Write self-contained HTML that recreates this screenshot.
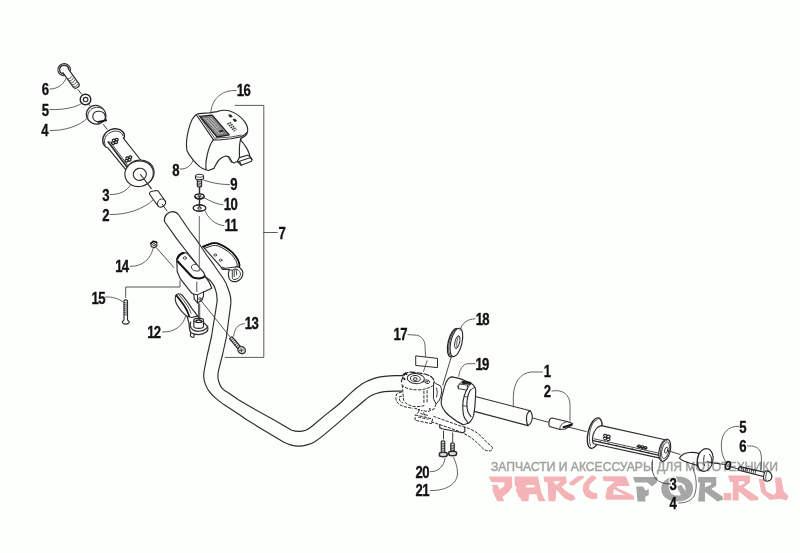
<!DOCTYPE html>
<html>
<head>
<meta charset="utf-8">
<title>Handlebar assembly</title>
<style>
html,body{margin:0;padding:0;background:#fdfffd;}
body{width:800px;height:553px;overflow:hidden;font-family:"Liberation Sans",sans-serif;}
svg{display:block;position:absolute;left:0;top:0;}
.o{fill:none;stroke:#2b2b2b;stroke-width:1.15;stroke-linecap:round;stroke-linejoin:round;}
.w{fill:#fdfffd;stroke:#2b2b2b;stroke-width:1.15;stroke-linecap:round;stroke-linejoin:round;}
.t{fill:none;stroke:#333;stroke-width:0.85;stroke-linecap:round;stroke-linejoin:round;}
.k{fill:none;stroke:#111;stroke-width:2;stroke-linecap:round;stroke-linejoin:round;}
.l{fill:none;stroke:#484848;stroke-width:0.85;stroke-linecap:round;stroke-linejoin:round;}
.d{fill:none;stroke:#333;stroke-width:0.95;stroke-linecap:butt;}
.dd{fill:none;stroke:#2e2e2e;stroke-width:1;stroke-dasharray:3.2 1.2;stroke-linecap:butt;stroke-linejoin:round;}
.n{font-family:"Liberation Sans",sans-serif;font-weight:bold;font-size:17.3px;fill:#111;stroke:#111;stroke-width:0.35;letter-spacing:-0.9px;}
.wm{font-family:"Liberation Sans",sans-serif;font-size:12.4px;fill:#a2a2a2;stroke:#a2a2a2;stroke-width:0.45;}
</style>
</head>
<body>
<svg width="800" height="553" viewBox="0 0 800 553">
<rect x="0" y="0" width="800" height="553" fill="#fdfffd"/>

<!-- ================= LEFT GRIP GROUP ================= -->
<g id="leftgrip">
<!-- bolt 6 -->
<ellipse class="w" cx="64.100" cy="69.600" rx="6.300" ry="5.900" transform="rotate(-20 64.100 69.600)"/>
<path class="o" style="stroke-width:1.300" d="M63.600 73.900 C61.300 73.600 59.700 71.900 59.600 69.700 C59.500 67.100 61.500 65.300 64 65.300 C66.500 65.300 68.300 66.800 68.500 68.900"/>
<path class="w" d="M62.900 72.600 L73.300 87.200 C74.300 88.300 76 88.600 77.500 87.600 C79 86.600 79.600 85 79 83.800 L68.600 69.300" />
<path class="t" style="stroke-width:0.800" d="M67.200 78.800 C69 79.300 71 78 72 76.200 M68.700 80.800 C70.500 81.300 72.500 80 73.500 78.200 M70.200 82.800 C72 83.300 74 82 75 80.200 M71.700 84.800 C73.500 85.300 75.500 84 76.500 82.200 M73.200 86.800 C75 87.300 77 86 78 84.200"/>
<path class="d" d="M77.800 89.400 L81.600 94.200"/>
<!-- washer 5 -->
<ellipse cx="85.500" cy="99.500" rx="5.300" ry="5.300" fill="#fdfffd" stroke="#222" stroke-width="1.400"/>
<ellipse cx="85.600" cy="99.600" rx="2.300" ry="2.200" fill="#fdfffd" stroke="#222" stroke-width="1.100"/>
<path class="d" d="M88 103.300 L90.400 106.400"/>
<!-- cap 4 -->
<ellipse class="w" style="stroke-width:1.250" cx="96.100" cy="114.800" rx="9.900" ry="9.200" transform="rotate(25 96.100 114.800)"/>
<path class="o" style="stroke-width:0.950" d="M87.800 118.800 C87 113.500 89.500 109.500 93.500 108 C97.500 106.600 102 107.500 104.500 110.300"/>
<path class="o" d="M98.600 122 C94.500 121.500 92.500 118.800 92.800 116 C93.200 112.800 96 111.200 99 111.300 C102 111.500 104.300 113 105 115.300 L106.200 120.300"/>
<path class="k" style="stroke-width:1.900" d="M98.400 121.900 L105.900 120.400"/>
<path class="d" d="M103.200 124.200 L107.300 129.500"/>
<!-- grip 3 -->
<path class="w" style="stroke:none" d="M103.4 143.7 C102.6 141.5 102.6 139.5 103.1 137.6 C104 135 105.3 133 107.2 131.5 C109.3 130 111.5 129.1 114 128.8 C116.5 128.6 119 129 120.8 130.2 C122.5 131.3 123.8 132.6 124.2 134.2 C124.5 135.3 124.5 136.5 124.2 137.6 L123.5 138.3 L141.5 161 L126.5 170.5 L107.9 147.8 C105.5 147.3 104 145.8 103.4 143.7 Z"/>
<path class="o" style="stroke-width:1.5" d="M103.4 143.7 C102.6 141.5 102.6 139.5 103.1 137.6 C104 135 105.3 133 107.2 131.5 C109.3 130 111.5 129.1 114 128.8 C116.5 128.6 119 129 120.8 130.2 C122.5 131.3 123.8 132.6 124.2 134.2 C124.5 135.3 124.5 136.5 124.2 137.6 L123.5 138.3"/>
<path class="o" style="stroke-width:0.9" d="M105.2 145.1 C104.4 143 104.3 141 104.8 139 C105.5 136.8 106.8 135 108.6 133.6 C110.3 132.3 112.5 131.4 114.7 131.1 C116.7 130.9 118.7 131.3 120.1 132.2 C121.5 133 122.5 134.2 122.8 135.6"/>
<path class="o" d="M103.4 143.7 C104 145.8 105.5 147.3 107.9 147.8 L125.7 169.7"/>
<path class="o" d="M123.5 138.3 L141 160.5"/>
<path class="o" style="stroke-width:1.700" d="M108.300 142 L127.200 167.300"/>
<path class="t" style="stroke-width:0.800" d="M110 141.500 L128.600 166.300"/>
<g class="t" style="stroke-width:1.250;stroke:#222">
<path d="M112.3 140.4 c.3 -1.4 2.3 -1.6 2.8 -.3 c.4 1.2 -.8 2 -1.8 1.6 c1.3 .3 1.7 1.8 .7 2.5 c-1 .7 -2.6 -.2 -2.4 -1.5 c.1 -.7 .6 -1 1.200 -1 M115.300 139.500 c.3 -1.4 2.3 -1.6 2.8 -.3 c.4 1.2 -.8 2 -1.8 1.600 c1.3 .3 1.7 1.8 .7 2.5 c-1 .7 -2.6 -.2 -2.4 -1.500 c.1 -.7 .6 -1 1.200 -1"/>
<path d="M125.800 158 c.3 -1.4 2.3 -1.6 2.8 -.3 c.4 1.2 -.8 2 -1.8 1.600 c1.3 .3 1.7 1.8 .7 2.5 c-1 .7 -2.6 -.2 -2.4 -1.500 c.1 -.7 .6 -1 1.200 -1 M128.800 157.100 c.3 -1.4 2.3 -1.6 2.8 -.3 c.4 1.2 -.8 2 -1.8 1.600 c1.3 .3 1.7 1.800 .7 2.500 c-1 .7 -2.600 -.2 -2.400 -1.500 c.1 -.7 .6 -1 1.200 -1"/>
</g>
<ellipse class="w" cx="139.900" cy="172.900" rx="14.300" ry="12.800" transform="rotate(-12 139.900 172.900)"/>
<ellipse class="w" cx="139.100" cy="173.700" rx="14.300" ry="12.800" transform="rotate(-12 139.100 173.700)"/>
<ellipse class="w" cx="139.800" cy="174.300" rx="6.600" ry="6" transform="rotate(-12 139.800 174.300)"/>
<path class="o" d="M140.500 174.500 L151.300 188.600"/>
<!-- sleeve 2 -->
<path class="w" d="M149.500 193.500 C149.600 192.500 150.200 191.800 151 191.500 L156.500 190.500 C157.300 190.500 158 190.900 158.500 191.500 L165.500 201.500 C165.800 202.600 165.600 203.600 165 204.500 C164.300 205.700 163.300 206.500 162 207 C160.800 207.300 159.600 207.100 158.500 206.500 L158 206 L149.700 194.500 Z"/>
<path class="o" style="stroke-width:1" d="M157.800 205.300 C157.300 203.800 157.600 202.100 158.500 200.700 C159.300 199.700 160.300 199.100 161.500 199 C162.900 198.900 164.100 199.400 165 200.500"/>
<path class="d" d="M162 204 L167.300 211.300"/>
</g>

<!-- ================= COVER 8 ================= -->
<g id="cover">
<path class="w" d="M196 114.700 C197 113.900 198 113.700 199 113.600 L209.100 112.900 L217 111.600 C219.500 110.700 221.500 110.400 223.100 110.300 C225.500 110.100 227.500 110.300 229.200 110.700 C232.500 111.700 235.500 113.200 238 115.100 C241 117.300 243.300 119.600 245 122.100 C246.300 124 247.200 126 247.600 128.200 C248 130.500 247.700 132.600 246.700 134.400 C245.300 136.300 243.500 137.700 240.700 138.600 L241.200 140.800 C243 142.500 244.500 144.500 245.700 146.700 C247.300 149 248.500 151.500 249.300 154 L249.800 156.200 L252 159.400 L251.600 161.200 L241.200 165.300 L238 162.100 L237.600 161.200 L234 163 L232.100 162.100 L229 156.700 C227.700 156.200 226.300 156 224.900 156.200 C223.300 156.700 221.800 157.500 220.400 158.500 C218.700 160 217.300 161.800 216.300 163.900 C215.300 165.500 214.500 167 214 168.400 L208.500 170.500 L205.900 169.800 C203.800 169.200 202 168.300 200.300 167.100 C197.500 165 195 162.500 192.900 159.700 C190 156.300 188 153.300 186.800 150.200 C186.300 146.500 186.300 142.500 186.800 138.700 C187.300 135 188 131.500 189 128.200 C189.800 125 190.800 122.200 192.100 119.500 C193.300 117.500 194.500 115.900 196 114.700 Z"/>
<path class="o" d="M196.500 115 L213.300 139.600 C215 140.100 217 140.100 218.700 140 L231 138.700 L241.500 136.600 C243.800 135.700 245.500 134.400 246.700 132.600"/>
<path class="t" d="M198.500 114.800 L214.600 138.200 L231 137 L241.300 135.100"/>
<path class="o" d="M213.500 139.600 C212 141.500 211 143.300 210.200 145.200 C208.800 148.500 207.800 151.800 207.200 155 C206.500 158 206 161 205.900 163.900 L205.900 169.800"/>
<path class="o" d="M240.700 138.600 C240 141.500 239.500 144.500 239.400 147.600 L239.400 157.600"/>
<path class="o" d="M239.400 157.600 L247.500 155.300 L249.800 156.200 M239.400 157.600 L237.600 160.700 M239.500 161.300 L249.900 157.700 L252 159.400 M239.500 161.300 L241.200 165.300 M239.500 161.300 L238 162.100"/>
<path class="t" d="M228.100 157.100 L231.200 162.300 L232.100 162.100"/>
<!-- sticker -->
<path d="M199.900 116.400 L212.200 115.100 L229.200 134.800 L217 137 Z" fill="#8c8c8c" stroke="#1c1c1c" stroke-width="1.300" stroke-linejoin="round"/>
<path d="M202.600 118 L211.200 117.100 L225.700 133.900 L217.700 135.300 Z" fill="#b5b5b5" stroke="#444" stroke-width="0.500"/>
<path d="M204.600 119.200 L219.500 135 M207 118.700 L221.900 134.500 M209.300 118.300 L224.200 134.100" fill="none" stroke="#333" stroke-width="0.800" stroke-dasharray="2 0.600 1.200 0.600"/>
<path d="M218.500 130.500 L222.500 130 L223.800 131.600 L219.800 132.200 Z" fill="#222"/>
<!-- logo on cover -->
<path d="M228.700 114.700 l2.600 .4 l.9 1.700 l-2.400 .3 z M233.100 119 l2.600 .4 l.9 1.700 l-2.400 .3 z" fill="#222" stroke="#222" stroke-width="0.700" stroke-linejoin="round"/>
<path d="M227.600 123.200 L234.600 131.300 M229.800 122.300 L236.400 130" fill="none" stroke="#3a3a3a" stroke-width="1.700" stroke-dasharray="1.500 0.900"/>
<path d="M228.700 122.800 L235.500 130.700" fill="none" stroke="#888" stroke-width="0.600" stroke-dasharray="0.800 1.600"/>
</g>

<!-- ================= BOLT 9 / WASHERS 10, 11 ================= -->
<g id="bolts9">
<path class="w" d="M197.300 179.500 L197.300 186.300 L199.500 187.500 L201.600 186.300 L201.600 179.500 Z"/>
<path class="t" d="M197.300 181.300 L201.600 182 M197.300 182.900 L201.600 183.600 M197.300 184.500 L201.600 185.200 M197.300 186 L201.600 186.600"/>
<path class="w" d="M195.500 176.200 C195.500 173.600 203.500 173.600 203.500 176.200 L203.500 178.600 C203.500 180.200 195.500 180.200 195.500 178.600 Z"/>
<path class="t" d="M195.600 176.400 C196.500 177.700 202.500 177.700 203.400 176.400"/>
<path class="o" style="stroke-width:1.400" d="M199.500 187.800 L199.500 194"/>
<ellipse cx="199.500" cy="196.300" rx="4.600" ry="2.500" fill="#fdfffd" stroke="#161616" stroke-width="1.200"/>
<path d="M195 196.800 C196 199.600 203 199.600 204 196.800" fill="none" stroke="#1c1c1c" stroke-width="1.500" stroke-linecap="round"/>
<ellipse cx="199.500" cy="196.100" rx="1.900" ry=".9" fill="#fdfffd" stroke="#161616" stroke-width="0.700"/>
<path class="o" style="stroke-width:1.400" d="M199.500 196.500 L199.500 207.500"/>
<ellipse class="w" style="fill:none" cx="199.500" cy="208" rx="6.300" ry="3.100"/>
<path class="w" style="fill:none" d="M199.500 204.900 C203 204.900 205.800 206.300 205.800 208 C205.800 209.700 203 211.100 199.500 211.100 C196 211.100 193.200 209.700 193.200 208 C193.200 206.300 196 204.900 199.500 204.900 Z"/>
<ellipse cx="199.500" cy="208.100" rx="2" ry="1" fill="#fdfffd" stroke="#161616" stroke-width="0.900"/>
</g>

<!-- ================= CLAMP + HANDLEBAR ================= -->
<g id="clamp">
<!-- rear half -->
<path class="w" d="M203 246.600 L211.600 243.400 C213.500 243 215.500 243 217.400 243.400 C220 244.300 222.600 245.500 225.100 247 C227.700 248.600 230.200 250.400 232.400 252.500 C234.500 254.700 236.300 257.100 237.800 259.700 C238.700 261.400 239.300 263.200 239.600 265.100 L239.100 266.900 L242.300 270.500 C242.800 271.700 243 273 242.800 274.200 C242.600 275.900 241.900 277.400 240.900 278.700 C239.800 279.900 238.500 280.800 236.900 281.400 C235.400 281.800 233.900 281.800 232.400 281.400 C231 280.800 229.900 279.900 229.200 278.700 L228.300 274.200 L229.200 269.600 L222.900 269.200 Z"/>
<path class="k" style="stroke-width:1.700" d="M203 246.600 L211.600 243.400 C213.500 243 215.500 243 217.400 243.400 C220 244.300 222.600 245.500 225.100 247 C227.700 248.600 230.200 250.400 232.400 252.500 C234.500 254.700 236.300 257.100 237.800 259.700 C238.700 261.400 239.300 263.200 239.600 265.100 L239.100 266.900"/>
<path class="o" style="stroke-width:1" d="M204.300 248.400 L212.500 245.600 C214.300 245.300 216.100 245.400 217.900 245.900 C220.400 246.800 222.800 248 225.100 249.500 C227.400 251 229.600 252.700 231.500 254.600 C233.300 256.500 234.800 258.600 236 260.800 C236.700 262.200 237.100 263.600 237.300 265.100 L236 266.900 L225.100 268.300 L222.900 269.200"/>
<path class="o" d="M236 266.900 L239.100 266.900"/>
<path class="o" style="stroke-width:0.900" d="M232.300 270.300 L232.300 278.200 C232.800 279.300 234 279.800 235.200 279.600 M234.200 269.500 L234.200 276.500 M236 269.300 L236.800 275 M237.800 269.800 C239.500 270.800 240.500 272.300 240.500 274.300 C240.300 276.300 239 278 237 278.800 C236 279.300 235 279.500 234.200 279.600 M229.200 269.600 L232.300 270.300 C233.500 268.800 236.300 268.300 237.800 269.800"/>
<ellipse class="t" cx="215.200" cy="255" rx="1.400" ry="1.100"/><ellipse class="t" cx="220.600" cy="260.200" rx="1.400" ry="1.100"/><ellipse class="t" cx="222.900" cy="268.300" rx="1.700" ry="1.100"/>
<!-- handlebar tube -->
<path fill="#fdfffd" stroke="none" d="M178.4 214.5 L189 230 L197.7 241.6 L200.6 246 L207 255.5 L214 265.2 L216.8 269.3 L223.3 278.5 C225.500 281.800 227 285 227.800 288 C228.800 290.500 229.600 292.800 230.100 295 C230.9 298 231 301 230.8 303.9 L226.4 337 L222.6 354.5 L218.9 368.9 C218.2 371.5 217.9 374 217.9 376.2 C217.9 378.2 218.2 380.2 218.9 382 C219.6 384.2 220.5 386.2 221.8 387.8 C223.5 389.8 225.7 391.5 228.3 392.8 L238.4 399.8 L252.9 408.2 L275 420.6 L291.7 430.25 C294 431 296.3 431.4 298.8 431.4 C301.3 431.4 303.5 431 305.8 430.25 C308.3 429 310.6 427.5 312.9 425.5 L324.6 415.6 L336.4 406.2 L340.9 402.5 L351.7 392.1 C355 389 359 386 362.6 383.5 C366 381.5 369.5 380 373.4 378.6 C377 377.5 380.5 376.8 384.300 376.400 C388 376 391.500 375.700 395.100 375.600 L402.700 375.600 L401.7 391.1 L395.1 391.1 L384.3 391.6 L375.6 393.8 L368.0 397.6 L365.0 400.0 L357.1 406.8 L350.0 412.6 L336.4 424.4 L324.6 434.4 L315.2 441.4 L307.0 444.9 L298.8 446.1 L290.5 444.9 L283.5 442.0 L260.0 427.9 L247.1 420.0 L238.4 414.0 L223.9 404.6 L215.3 397.9 L208.7 390.7 L205.1 383.4 L203.7 376.2 L204.5 368.9 L207.4 354.5 L211.4 337 L217.1 301.7 L215.8 290.6 L211.4 281.9 L204.9 276.5 L196.5 264 L186.2 251 L176.8 238.8 L164.5 221.5 C164 218.5 164.8 216.3 166.4 214.5 C168 212.8 170 211.8 172.1 211.6 C174.5 211.5 176.8 212.5 178.4 214.5 Z"/>
<path class="o" d="M178.4 214.5 L189 230 L197.7 241.6 L200.6 246 L207 255.5 L214 265.2 L216.8 269.3 L223.3 278.5 C225.500 281.800 227 285 227.800 288 C228.800 290.500 229.600 292.800 230.100 295 C230.9 298 231 301 230.8 303.9 L226.4 337 L222.6 354.5 L218.9 368.9 C218.2 371.5 217.9 374 217.9 376.2 C217.9 378.2 218.2 380.2 218.9 382 C219.6 384.2 220.5 386.2 221.8 387.8 C223.5 389.8 225.7 391.5 228.3 392.8 L238.4 399.8 L252.9 408.2 L275 420.6 L291.7 430.25 C294 431 296.3 431.4 298.8 431.4 C301.3 431.4 303.5 431 305.8 430.25 C308.3 429 310.6 427.5 312.9 425.5 L324.6 415.6 L336.4 406.2 L340.9 402.5 L351.7 392.1 C355 389 359 386 362.6 383.5 C366 381.5 369.5 380 373.4 378.6 C377 377.5 380.5 376.8 384.300 376.400 C388 376 391.500 375.700 395.100 375.600 L402.700 375.600"/>
<path class="o" d="M204.9 276.5 C208 278.5 210 280 211.4 281.9 C213.5 284.5 215 287.5 215.8 290.6 C216.8 294 217.3 298 217.1 301.7 L211.4 337 L207.4 354.5 L204.5 368.9 C203.9 371.5 203.700 373.800 203.700 376.200 C203.800 378.700 204.300 381 205.100 383.400 C206 386 207.200 388.400 208.700 390.700 C210.500 393.300 212.700 395.700 215.300 397.900 C218 400.200 220.800 402.400 223.900 404.600 L238.400 414 L247.100 420 L260 427.900 L283.500 442 C286 443.300 288.300 444.300 290.500 444.900 C293.300 445.700 296 446.100 298.800 446.100 C301.500 446.100 304.300 445.700 307 444.900 C310 444 312.700 442.900 315.200 441.400 C318.500 439.300 321.500 437 324.600 434.400 L336.400 424.400 L350 412.600 L357.100 406.800 L365 400 C366 399 367 398.300 368 397.600 C370.500 396 373 394.700 375.600 393.800 C378.500 392.800 381.300 392 384.300 391.600 C388 391.200 391.500 391.100 395.100 391.100 L401.700 391.100"/>
<path class="o" d="M164.5 221.5 L176.8 238.8 L186.2 251 L196.5 264"/>
<path class="o" d="M164.5 221.5 C164 218.5 164.8 216.3 166.4 214.5 C168 212.8 170 211.8 172.1 211.6 C174.5 211.5 176.8 212.5 178.4 214.5"/>
<!-- front block -->
<path class="w" d="M177.200 258 C177.700 256.500 178.400 255.600 179.400 254.800 C180.500 253.700 181.800 253 183.200 252.600 C184.500 252.500 185.800 252.700 187 253.100 L203.800 272.700 L204.900 275.900 L204.900 276.500 C207.500 279 210 283 211.700 288.300 L203.500 292 L203.500 295.800 L201.900 300.200 L197.500 302.900 L194.300 299.100 L193.800 294.200 L191.600 293.100 L181 279.700 C180 278.500 179.300 277 178.900 275.400 C178 274 177.400 272.600 177.200 271.100 L176.700 259.100 Z"/>
<path class="k" style="stroke-width:2" d="M177.400 258.800 C178 256.800 179.200 255.300 180.500 254.400 C181.500 253.700 182.500 253.300 183.500 253.100 M177.500 261.300 L191.300 276 C192.500 277.200 193.800 277.800 195.100 278.100 C197.500 278.500 199.700 278.500 201.700 278.100 C203 277.700 204 277.100 204.700 276.200"/>
<path class="t" d="M196.800 281.900 L196.800 291.700"/>
<path class="o" style="stroke-width:1" d="M193.800 294.200 L197.500 294.800 L203.500 292 M197.500 294.800 L197.500 302.900"/>
<ellipse class="t" cx="199.900" cy="298.800" rx="1.200" ry="1.300"/>
<path class="o" style="stroke-width:0.900" d="M199.300 270.700 C197.500 271.400 195.300 271.200 193.500 270.200 C191.700 269.200 191 267.500 191.700 266 C192.400 264.800 194 264.300 195.700 264.400"/>
<ellipse class="t" cx="184.800" cy="258" rx="1.600" ry="1.300"/>
<path class="t" style="stroke-width:0.900;stroke:#555" d="M199.300 216.500 L199.300 270"/>
</g>

<!-- ================= NUT 14, BOLT 15, LEVER 12, SCREW 13 ================= -->
<g id="misc-left">
<!-- nut 14 -->
<path class="w" d="M150.8 243.5 L153.3 241.3 L156.6 242.3 L157 245.5 L154.5 247.7 L151.3 246.8 Z"/>
<path class="k" style="stroke-width:1.6" d="M150.8 243.5 L153.3 241.3 L156.6 242.3"/>
<ellipse class="t" cx="154" cy="244.7" rx="1.4" ry="1.2"/>
<path class="t" d="M156.3 247.6 L173.8 267.5"/>
<!-- bracket to bolt 15 -->
<path class="t" d="M180 280.800 L180 287 L125.700 287 L125.700 297.500"/>
<!-- bolt 15 -->
<path class="w" d="M124 300.5 L124 319.8 L122.3 321.8 C122.3 324.8 129.3 324.8 129.3 321.8 L127.5 319.8 L127.5 300.5 C127 299.7 124.5 299.7 124 300.5 Z"/>
<path class="t" d="M124 302.5 L127.5 303.2 M124 304.5 L127.5 305.2 M124 306.5 L127.5 307.2 M124 308.5 L127.5 309.2 M124 310.5 L127.5 311.2 M124 312.5 L127.5 313.2 M124 314.5 L127.5 315.2"/>
<!-- lever 12 -->
<path class="w" d="M175.800 295.300 C176.500 294.200 177.500 293.700 178.600 293.700 C180 293.800 181.300 294.400 182.400 295.300 L187.800 302.400 L192.100 308.900 L196.500 314.300 L197.500 315.900 L189.400 320 L187.200 316.500 C185.500 315.300 183.900 313.800 182.400 312.100 C180.500 310 178.900 307.800 177.500 305.600 C176.300 303.800 175.600 302 175.300 300.200 C175.200 298.400 175.300 296.800 175.800 295.300 Z"/>
<path class="k" style="stroke-width:1.700" d="M176.600 295.600 C179 298.500 181.300 301.500 183.400 304.500 C184.800 306.600 186.100 308.800 187.200 311 C188.200 313.200 188.900 315.300 189.400 317.500"/>
<path class="t" d="M179.100 294.800 C181.500 297.500 184 300.700 186.300 304 C188 306.500 189.800 309.800 191 313.200"/>
<path class="w" d="M187.200 316.500 L188.900 323 L189.400 328.400 C189.600 330.500 190.300 331.800 191 332.700 C193 334 195.500 334.600 198.600 334.600 C201.500 334.500 204 333.700 206 332.300 C207.500 331 208.200 329.500 207.900 328 C207.500 326.500 206.700 325.200 205.500 324.200 L203.500 322.700 L197.500 315.900 L192 317.500 Z"/>
<path class="o" d="M190.700 322 C189.800 324.300 190 326.500 191.300 328.300 C193 330.300 195.700 331.300 198.600 331.300 C201.500 331.200 204.300 330.300 206 328.800 C207 327.900 207.600 327 207.800 326"/>
<path class="w" d="M193.800 320.300 L193.800 326.500 C193.800 329 203.500 329 203.500 326.500 L203.500 320.300 Z"/>
<ellipse class="w" cx="198.650" cy="320.300" rx="4.850" ry="2.100"/>
<ellipse class="w" style="stroke-width:1.300" cx="198.700" cy="321.300" rx="2.800" ry="1.300"/>
<path class="o" d="M190.500 332.700 L190.500 336 C191.300 337.300 193.300 337.500 193.800 337.100 L194.300 334.400"/>
<path class="t" d="M198.600 303.400 L198.600 319.700 M199.700 303.800 L199.700 319.700"/>
<!-- screw 13 -->
<path class="t" d="M200.8 300.3 L230.5 337.5"/>
<path class="w" style="fill:#e2e2e2" d="M229.500 338.800 L238.500 349.300 L241 347.200 L232 336.600 Z"/>
<path class="t" d="M231 340.3 L233.6 338.3 M232.3 341.9 L234.9 339.9 M233.6 343.5 L236.2 341.5 M234.9 345.1 L237.5 343.1 M236.2 346.7 L238.8 344.7 M237.5 348.2 L240.1 346.2"/>
<ellipse class="w" style="stroke-width:1.300;fill:#d8d8d8" cx="241.600" cy="350.200" rx="3.900" ry="3.400" transform="rotate(40 241.600 350.200)"/>
<path class="t" d="M239.5 350.5 L243 350 M241 348.7 L241.6 352"/>
</g>

<!-- ================= BRACKET 7 ================= -->
<path class="t" style="stroke-width:0.8" d="M235 105.4 L263.8 105.4 L263.8 357.4 L225.2 357.4 M263.8 232.5 L277.3 232.5"/>

<!-- ================= RIGHT ASSEMBLY ================= -->
<g id="right">
<!-- decal 17 -->
<path class="w" style="stroke-width:1" d="M416.100 355.900 L437.500 358.400 L437.500 367.600 L416.100 365.500 Z"/>
<path class="l" d="M427.100 360.700 L423.500 371.500"/>
<!-- washer 18 -->
<path class="t" style="stroke-width:0.900" d="M451.300 356.800 L442.800 385"/>
<ellipse cx="453.800" cy="342.700" rx="5.600" ry="14.500" fill="#fdfffd" stroke="#222" stroke-width="1.300" transform="rotate(13 453.800 342.700)"/>
<ellipse cx="455" cy="342.600" rx="5.600" ry="14.500" fill="#fdfffd" stroke="#333" stroke-width="0.800" transform="rotate(13 455 342.600)"/>
<ellipse cx="456.400" cy="342.400" rx="5.600" ry="14.500" fill="#fdfffd" stroke="#222" stroke-width="1.100" transform="rotate(13 456.400 342.400)"/>
<ellipse class="w" style="stroke-width:0.900" cx="457.300" cy="342.100" rx="2.300" ry="6.600" transform="rotate(13 457.300 342.100)"/>
<path class="t" style="stroke-width:0.800" d="M458.600 336.500 C457 338.500 456.300 343 457 347.500"/>

<!-- master cylinder (dashed) -->
<g id="mc">
<path class="dd" d="M401.800 392.100 C399.500 392.500 397.800 393 396.800 393.900 C396 395.500 395.700 397 395.900 398.500 C396.200 400.300 396.800 401.800 397.700 403 C399.500 404.800 401.600 406 404 406.600 L413.100 408.400"/>
<path class="dd" style="stroke-width:1" d="M401.800 396.300 L399.500 396.600 L399.500 400 C400.300 401.500 401.500 402.500 403.100 403"/>
<path fill="#fdfffd" stroke="none" d="M401.300 382 L403.600 400.300 C407 406 429 406 434.800 398 L434.300 381 Z"/>
<path class="dd" d="M402.200 384.900 L403.600 400.300 C405 402.500 406.700 404 408.600 404.800 C411 406 413.300 406.600 415.800 406.600 C419 406.700 422 406.300 424.500 405.500"/>
<path class="dd" d="M434.300 384.400 L434.800 396.500"/>
<path class="dd" d="M401.800 384.400 C402.800 386 404.500 387.200 406.800 388.100 C410 389.300 413.500 389.900 417.600 389.900 C421 389.900 424 389.400 426.600 388.500 C430 387.500 432.500 386.300 433.900 384.900"/>
<path class="dd" d="M423.900 390.800 L423.900 403.900 M427.100 390.300 L427.100 403.300"/>
<path fill="#fdfffd" stroke="#1a1a1a" stroke-width="1.150" stroke-dasharray="6 1" stroke-linejoin="round" d="M401.300 382.200 C401.500 380.500 402 379 402.700 377.700 C403.300 376.300 404 375 405 374 C406 373 407.200 372.500 408.600 372.200 C411 371.900 413.500 372.100 415.800 372.700 C419 373 422 373.400 424.800 374 C427.300 374.700 429.500 375.600 431.200 376.800 C432.500 377.800 433.400 379 433.900 380.400 C434.300 381.700 434.400 383 434.300 384.400"/>
<path d="M403.400 374.600 L405.600 373.200 L406.600 374.300 M403.800 378.300 L404.800 379.500" stroke="#111" stroke-width="1.500" fill="none" stroke-linecap="round"/>
<ellipse cx="415.800" cy="378.600" rx="8.600" ry="5" fill="none" stroke="#2b2b2b" stroke-width="1" transform="rotate(5 415.800 378.600)"/>
<ellipse cx="415.400" cy="378.600" rx="5" ry="3" fill="none" stroke="#2b2b2b" stroke-width="1" transform="rotate(5 415.400 378.600)"/>
<ellipse cx="415.300" cy="379" rx="1.900" ry="1.500" fill="#ddd" stroke="#2b2b2b" stroke-width="0.900"/>
<ellipse cx="427.100" cy="381.700" rx="2.500" ry="1.700" fill="#fdfffd" stroke="#2b2b2b" stroke-width="0.900" transform="rotate(20 427.100 381.700)"/>
<ellipse cx="427.100" cy="381.700" rx="1.100" ry=".8" fill="#333"/>
<!-- right knuckle -->
<path class="w" style="stroke-width:1" d="M434 382.500 C435 383 435.600 383.400 436.100 383.700 L440.200 385.700 C441.300 387.700 441.700 389.800 441.600 391.900 C441.300 395 440.600 397.600 439.500 400 L436.100 404 L433.600 399 Z"/>
<path class="o" style="stroke-width:0.900" d="M436.500 388 C437.500 390.500 437.500 393.500 436.500 397"/>
<path class="dd" d="M436.100 404 L434 409 L428 411.500 L421 410.500 M414.400 408.100 L420 410"/>
<!-- lower bracket / pivot -->
<path class="dd" d="M415.100 414.900 L432.700 419 L431.400 423.700 L415.100 420.300 Z"/>
<path class="dd" style="stroke-width:0.900" d="M419 411 L416.500 414.800 M423.500 412.500 L425.500 417 M418 417 L428.500 419.300 M420.500 413.500 L428 415.500"/>
<circle cx="418.700" cy="409.800" r=".9" fill="#222"/><circle cx="429.800" cy="408.800" r=".9" fill="#222"/>
<!-- lever -->
<path class="dd" d="M433.400 416.300 C442 419.500 451 422.500 460 425.800 C467 427.500 473.500 430 478 433.500 C482 437 485 440.500 488 443.500 C490 445 491.600 446 492.300 447.300 C492.800 449 492 450.300 490.400 450.800 C488 451.300 486 450.500 484 449.500 C480 445.500 476 441.500 471.500 438 C468 435.300 464 433.500 460 431.800 C451 428.300 441 425 430.700 421.700"/>
</g>

<!-- throttle tube 1 -->
<path class="w" d="M474.300 396.200 L530.200 410.800 C532 412.500 532.600 415.500 532.200 418.500 C531.800 421.500 530.300 424.300 528 425.600 L470.500 410.400 Z"/>
<path class="o" d="M530.200 410.800 C528 411.800 526.700 414.500 526.500 417.500 C526.300 420.700 526.800 423.800 528 425.600"/>
<!-- throttle housing 19 -->
<path class="w" d="M449.200 377.900 C450.200 377.300 451 377 452 376.900 L460.100 378.600 L471 383.300 C472.800 384.300 474.200 385.700 475 387.400 C475.600 389 475.800 390.500 475.700 392.100 L475 405.700 L473.700 415.200 C473.200 417.300 472.300 419.200 471 420.600 C470.200 421.800 469.300 422.700 468.200 423.300 L463.500 424.700 L456.700 421.300 L448.600 415.200 C446.300 413.300 444.500 411 443.100 408.400 C442 406.700 441.300 404.900 441.100 403 C441.300 399.300 441.900 395.700 443.100 392.100 C443.800 388.800 444.700 385.600 445.900 382.600 C446.800 380.800 447.900 379.200 449.200 377.900 Z"/>
<path class="o" d="M467.600 388.100 C466 390.500 465 393.200 464.200 396.200 C463.300 399.300 462.800 402.500 462.800 405.700 C462.700 409 463 412.200 463.500 415.200 C463.900 416.800 464.600 418.200 465.500 419.300 L468.200 423.300"/>
<path class="o" d="M470.300 390.100 C469 392.500 468.100 395 467.600 397.600 C467 400.300 466.800 403 466.900 405.700 C467 408 467.500 410.300 468.200 412.500 C469 414 469.900 415.400 471 416.600"/>
<path class="t" d="M462.800 405.700 L466.900 406.300 M464.200 396.200 L467.600 397.200"/>
<path class="o" style="stroke-width:0.900" d="M471 383.300 C469.800 384.800 468.600 386.400 467.600 388.100 M475 387.400 C473.200 388 471.600 388.900 470.300 390.100"/>
<!-- switch -->
<path d="M462.500 381.300 L471 382.400 L470.600 384.100 L462 383.300 Z" fill="#222" stroke="#161616" stroke-width="0.900" stroke-linejoin="round"/>
<path class="w" style="stroke-width:0.900" d="M459.400 384 L467.600 385.100 L466.900 390.100 L458.700 388.700 Z"/>
<path class="o" style="stroke-width:0.900" d="M459.400 384 L462.300 381.400 M467.600 385.100 L470.600 384.100 M458.700 388.700 L457.500 386"/>
<!-- bracket under housing -->
<path class="o" d="M439.700 424.700 L439.700 427.400 L441.800 428.800 L462.800 432.800 L464.900 431.500 L464.700 427"/>
<path class="dd" d="M444 410 C449 416 455 420.500 463 425"/>

<!-- screws 20, 21 -->
<path class="t" style="stroke-width:0.950" d="M443.500 431 L443.500 439 M452.700 433 L452.700 441.500"/>
<path class="w" d="M441.3 441.5 L441.3 452.5 L444.7 452.5 L444.7 441.5 C444.3 440.7 441.7 440.7 441.3 441.5 Z"/>
<path class="t" d="M441.3 443 L444.7 443.7 M441.3 444.7 L444.7 445.4 M441.3 446.4 L444.7 447.1 M441.3 448.1 L444.7 448.8 M441.3 449.8 L444.7 450.5"/>
<path class="w" style="stroke-width:1.500;fill:#ddd" d="M439.400 453.500 C439.400 451.800 447.200 451.800 447.200 453.500 L447.200 455.300 C447.200 457.300 439.400 457.300 439.400 455.300 Z"/>
<path class="w" d="M450.8 443.5 L450.8 451.5 L454.2 451.5 L454.2 443.5 C453.8 442.7 451.2 442.7 450.8 443.5 Z"/>
<path class="t" d="M450.8 445 L454.2 445.7 M450.8 446.7 L454.2 447.4 M450.8 448.4 L454.2 449.1 M450.8 450 L454.2 450.7"/>
<path class="w" style="stroke-width:1.500;fill:#ddd" d="M448.700 452.500 C448.700 450.800 456.500 450.800 456.500 452.500 L456.500 454.300 C456.500 456.300 448.700 456.300 448.700 454.300 Z"/>

<!-- sleeve 2 (right) -->
<path class="d" d="M532.500 418 L548.500 422.300 M568 427 L586.500 431.600"/>
<path class="w" d="M549.500 419.500 C550.300 418.500 551 418.100 552 418 L567 421.500 L572.500 423.500 L572 425 L565 429 L560 429.500 L549.500 426.500 C548.800 425.500 548.700 424.200 549 423 C549 421.800 549.200 420.500 549.500 419.500 Z"/>
<path class="o" style="stroke-width:0.900" d="M567 421.500 C564.500 422.300 562.500 423.500 561 425.200 C560 426.500 559.700 428 560 429.500"/>
<path class="k" style="stroke-width:2" d="M563.500 427.200 L571.300 424.600"/>
<!-- right grip 3 -->
<ellipse class="w" style="stroke-width:1.400" cx="594.750" cy="433.100" rx="6.700" ry="15.600" transform="rotate(14 594.750 433.100)"/>
<path class="t" d="M590.500 445.500 C588.500 441 589 432.500 591.500 426 C593 422.500 595 420.300 597.300 419.800"/>
<path class="w" style="stroke:none" d="M601.250 425.600 C598.500 426.500 597 427.500 596.250 428.750 C594.500 431 593.500 433 593.100 435 C592.500 437.300 592.300 439.500 592.500 441.250 C592.700 442.500 593.100 443.300 593.750 443.750 L660 458.100 L666.250 440 Z"/>
<path class="o" d="M666.250 440 L601.250 425.600 C598.500 426.500 597 427.500 596.250 428.750 C594.500 431 593.500 433 593.100 435 C592.500 437.300 592.300 439.500 592.500 441.250 C592.700 442.500 593.100 443.300 593.750 443.750 L660 458.100"/>
<path class="o" style="stroke-width:1.300" d="M593.100 440.600 L660.600 455.600"/>
<path class="t" d="M594 438.800 L661 453.600"/>
<path d="M600 442.400 L600.300 441.300 M608 444.200 L608.300 443.100 M616 446 L616.300 444.900 M624 447.800 L624.300 446.700 M632 449.500 L632.300 448.400 M640 451.300 L640.300 450.200 M648 453.100 L648.300 452" stroke="#111" stroke-width="1.200" fill="none"/>
<g class="t" style="stroke-width:1.250;stroke:#2a2a2a">
<path d="M603.500 435.300 c1 -1.300 3 -1.100 3.300 .3 c.2 1.300 -1.500 2 -2.600 1.300 M606.800 436 c1 -1.300 3 -1.100 3.300 .3 c.2 1.300 -1.500 2 -2.600 1.300 M603.300 438 c1 -1.300 3 -1.100 3.300 .3 c.2 1.300 -1.500 2 -2.600 1.300 M606.600 438.800 c1 -1.300 3 -1.100 3.300 .3 c.2 1.300 -1.500 2 -2.600 1.300 M604 436.800 l5.500 1.300"/>
<path d="M637.500 446 c1 -1.200 2.800 -1 3.100 .3 c.2 1.100 -1.400 1.800 -2.400 1.200 M640.800 446.700 c1 -1.200 2.800 -1 3.100 .3 c.2 1.100 -1.400 1.800 -2.400 1.200 M644 447.400 c1 -1.200 2.600 -1 2.900 .3 c.2 1.100 -1.400 1.800 -2.400 1.200 M637 446.300 l9.500 2.200"/>
</g>
<ellipse class="w" cx="664.750" cy="450.250" rx="5.500" ry="11.300" transform="rotate(14 664.750 450.250)"/>
<path class="o" style="stroke-width:0.900" d="M661.500 460.500 C659.300 456 660.500 446.500 663.500 442.500 C664.600 441.200 665.700 440.400 667 440"/>
<ellipse class="t" cx="665.500" cy="450.250" rx="3.500" ry="8.500" transform="rotate(14 665.500 450.250)"/>
<ellipse class="w" style="stroke-width:0.900" cx="666.250" cy="450.200" rx="1.500" ry="3.100" transform="rotate(14 666.250 450.200)"/>
<path class="t" style="stroke-width:0.900" d="M667.500 450.600 L680 454.400"/>

<!-- cap 4 right -->
<path class="w" d="M679.400 458.200 C680.500 456.300 682 455 683.750 454.100 C686.300 452.900 689 452.400 692 452.300 C694.500 452.300 696.800 452.700 698.900 453.400 L697.500 465.100 C695.700 464.900 693.800 464.400 692 463.700 C689 462.900 686.300 462 683.750 461 C682 460.300 680.500 459.400 679.400 458.200 Z"/>
<ellipse class="w" cx="705.100" cy="460" rx="7.900" ry="11.500" transform="rotate(12 705.100 460)"/>
<path class="o" style="stroke-width:1" d="M704.300 455.500 C703.300 458.500 703.500 462.500 704.500 465.500 M709.500 454.300 C711.500 456 712.300 460 711.500 463.500"/>
<path class="o" style="stroke-width:0.900" d="M698.500 466.500 C696.800 462 697.300 455.500 700.300 451.500"/>
<path class="t" style="stroke-width:0.900" d="M707.100 461.600 L712 462.600"/>
<path class="d" d="M713.500 463 L725 464.500"/>
<!-- washer 5 right -->
<ellipse cx="728" cy="465.500" rx="2.300" ry="3.900" fill="#fdfffd" stroke="#1c1c1c" stroke-width="1.600" transform="rotate(14 728 465.500)"/>
<ellipse cx="728.200" cy="465.500" rx=".6" ry="1.500" fill="#fdfffd" stroke="#1c1c1c" stroke-width="0.600" transform="rotate(14 728.200 465.500)"/>
<path class="d" d="M730.500 466.900 L738.800 469.200"/>
<!-- bolt 6 right -->
<g transform="translate(0 -0.700)">
<path class="w" d="M739.800 467.300 L765.300 473.100 L764.400 477.400 L738.900 470.900 C738.300 469.700 738.700 468 739.800 467.300 Z"/>
<path class="t" style="stroke-width:0.800" d="M741.800 467.800 L741 471.400 M743.800 468.200 L743 471.900 M745.800 468.700 L745 472.400 M747.800 469.100 L747 472.900 M749.800 469.600 L749 473.400 M751.800 470 L751 473.900 M753.800 470.500 L753 474.400 M755.800 470.900 L755 474.900"/>
<path class="w" d="M765.300 471.700 C767.500 471.300 770 472.500 771.300 474.700 C772.300 477 771.800 479.600 770 481 C768 482.200 765.300 481.800 764 480.500 C763.200 478 764 474 765.300 471.700 Z"/>
<path class="t" d="M767 472.500 C765.800 475 765.300 478.500 766 481"/>
</g>
</g>

<!-- ================= LEADERS ================= -->
<g id="leaders" class="l">
<path d="M50 89 C58 89 64 84 66.5 77.5"/>
<path d="M50 109.5 C62 110 75 108 82.5 103"/>
<path d="M50 130.5 C64 131 80 126 87.5 118"/>
<path d="M110 194.5 C119 195 127 191 130.5 185"/>
<path d="M110 214.5 C126 215 144 209 153 200"/>
<path d="M180 169 C186 169.5 191 166 193 160.5"/>
<path d="M236.2 90.5 C222 90 212 98 210.7 113"/>
<path d="M203.8 180.2 C212 183 220 184.5 229.5 184.6"/>
<path d="M203.8 197.6 C210 201 216 204 223 204.8"/>
<path d="M204.5 209.8 C208 218 214 224.5 223.8 225.6"/>
<path d="M130 266.3 C142 267 151 259 153.2 248"/>
<path d="M105.5 297 C112 296.5 119 298.5 123.7 302.5"/>
<path d="M162.5 332 C174 332.5 183 326 185.5 316.5"/>
<path d="M244.5 323.7 C238 324 234 329 233.8 336"/>
<path d="M407.900 334.600 L416.500 335.200 C421.500 336 424.500 340 425 345 L425.500 356.500"/>
<path d="M475 318.8 C467 319 461.5 323.5 460 330.5"/>
<path d="M475 363.7 L468 363.7 C463 364 459.5 369 458.8 376.3"/>
<path d="M542.5 372 L531 372 C520 373 513.5 383 513.3 397 L513.3 407"/>
<path d="M552 391 C563 389 570 395 570 405 L570 421.3"/>
<path d="M430.5 471.7 C438 472 444 466.5 445 458.5"/>
<path d="M430.5 490.5 C446 491 457.5 484 457.5 473 C457.5 467 455.5 462 453.7 457.5"/>
<path d="M738.7 426.3 C728 426 721.5 433 721.3 445 C721.2 452 723 458 726 462"/>
<path d="M747.500 446 C753 445.500 758 447 760 451 C761.300 454 761.600 458 761.400 462 L761 469.500"/>
<path d="M652.5 460 C651.5 468 652.5 475 656 479 C659.5 482.5 664 483.8 668.7 483.8"/>
<path d="M692.5 467.5 C696.5 476 697.5 487 694.5 495 C692 500.5 686 503 678.7 503"/>
</g>

<!-- ================= WATERMARK ================= -->
<g id="watermark" opacity="0.999" style="mix-blend-mode:multiply">
<text class="wm" x="491" y="470.6" textLength="287" lengthAdjust="spacingAndGlyphs">ЗАПЧАСТИ И АКСЕССУАРЫ ДЛЯ МОТОТЕХНИКИ</text>
<g fill="#f5b3b9">
<!-- P -->
<path d="M488.600 476.500 L511.900 476.500 L512.250 487 L508.500 492.250 L502.500 496.750 L504 501.250 L497.250 501.250 L492.750 491.500 L492.400 485.100 L497.250 484.750 L499.900 489.600 L504 486.250 L504.750 482.500 L491.250 482.100 Z"/>
<!-- A -->
<path fill-rule="evenodd" d="M514.800 476.400 L538 476.400 L539.750 485 L541.500 493 L545.500 501.300 L538.500 501.300 L536.500 494.300 L529 494.300 L528.500 501.300 L521.500 501.300 L520.500 498 L518.500 497 L517.500 493 L516 492 L516.500 486.500 L515 486 L514.500 481 Z M526.200 484.900 L534.500 484.900 L534.500 487.400 L526.200 487.400 Z"/>
<!-- R -->
<path fill-rule="evenodd" d="M543.700 476.400 L566 476.400 L566.900 482.500 L561.600 486.900 L566 491.250 L573.900 495.600 L575.600 499.100 L571.250 501.300 L564.250 498.250 L556.400 489.500 L555.500 501.300 L548.500 501.300 L547.600 482.500 L544.100 481.600 Z M552.900 481.200 L560.750 481.200 L556.400 485.100 Z"/>
<!-- T -->
<path d="M577.650 476.200 L583.300 475.750 L584.200 477.600 L573.400 485.600 L569.200 484.650 L569.700 482.300 Z"/>
<path d="M592.200 475.300 L595.900 476.700 L596.400 478.600 L589.800 484.200 L588.900 488.900 L592.200 492.200 L597.300 493.600 L597.300 498.700 L592.200 499.200 L585.600 496.400 L582.800 490.750 L583.300 484.200 L587.500 479 Z"/>
<!-- S -->
<path fill-rule="evenodd" d="M602.500 476.200 L625.900 476.200 L629.700 486.100 L617.500 486.100 L616.500 487.500 L633.400 495.400 L634.400 499.650 L606.200 499.650 L605.300 496.400 L607.200 487.900 L614.700 481.400 L603.400 480.900 Z M613.750 488.900 L625 495 L613.300 494.500 Z"/>
<!-- . -->
<path d="M723.700 493 L731.200 493 L731.200 500.300 L723.700 500.300 Z"/>
<!-- R -->
<path fill-rule="evenodd" d="M728 475.600 L750 475.600 L750 482.500 L743.700 487.500 L758.700 497.500 L757.500 500.600 L750 500.600 L738.700 491.300 L738.700 500.600 L732.500 500.600 L733 482 L730 482 Z M738.800 481.200 L744.500 481.200 L744.500 483.500 L738.800 486 Z"/>
<!-- U -->
<path d="M758.700 478.700 L763.700 478.700 L766.200 491.300 L773.700 495 L776.200 492.500 L775 477.500 L781.200 477.500 L783.700 491.300 L788.700 496.300 L786.200 500.600 L780 498.700 L770 500 L761.200 492.500 Z"/>
</g>
<g fill="#a6a6a6">
<!-- F -->
<path d="M633.100 477 L657.500 477 L656.900 482.600 L651.900 486.400 L647.500 482.600 L635 482.600 Z"/>
<path d="M636.250 486.400 L643.100 486.400 L645.600 490.750 L648.750 488.900 L648.750 495.100 L645 497 L645.600 501.400 L637.500 501.400 Z"/>
<!-- O -->
<path fill-rule="evenodd" d="M677.500 476.400 C688 476.400 693.100 481.500 693.100 488.500 C693.100 496 688 501.400 677.500 501.400 C667 501.400 661.250 496 661.250 488.500 C661.250 481.500 667 476.400 677.500 476.400 Z M677.500 482.300 C672.500 482.300 669.500 485 669.500 488.900 C669.500 492.800 672.500 495.500 677.500 495.500 C682.500 495.500 685.500 492.800 685.500 488.900 C685.500 485 682.500 482.300 677.500 482.300 Z"/>
<path d="M676.500 486.500 L681.500 484.800 L688.500 496.800 L683 498.800 Z"/>
<!-- R -->
<path fill-rule="evenodd" d="M698.100 477 L716.250 477 L716.250 485.750 L711.250 488.900 L722.500 496.400 L723.100 499.500 L717.500 501.400 L705 492 L705 501.400 L698.100 501.400 L700 482.600 L698.100 482.600 Z M705 482.600 L711.250 482.600 L711.250 484.500 L705 487.600 Z"/>
</g>
</g>

<!-- ================= LABELS ================= -->
<g id="labels" class="n" opacity="0.999">
<g style="stroke:#fdfffd;stroke-width:3.2;stroke-linejoin:round;fill:#fdfffd">
<text transform="translate(669.6 489.6) scale(.76 1)">3</text>
</g>
<text transform="translate(669.6 489.6) scale(.76 1)">3</text>
<text transform="translate(669.6 509.3) scale(.76 1)">4</text>
<text transform="translate(41.8 95) scale(.76 1)">6</text>
<text transform="translate(41.8 115.5) scale(.76 1)">5</text>
<text transform="translate(41.3 136.2) scale(.76 1)">4</text>
<text transform="translate(102.3 200.6) scale(.76 1)">3</text>
<text transform="translate(102.3 220.6) scale(.76 1)">2</text>
<text transform="translate(172.3 175.5) scale(.76 1)">8</text>
<text transform="translate(236.8 96.3) scale(.76 1)">16</text>
<text transform="translate(230.3 190) scale(.76 1)">9</text>
<text transform="translate(223.8 210.2) scale(.76 1)">10</text>
<text transform="translate(224.5 231.3) scale(.76 1)">11</text>
<text transform="translate(278.5 238.8) scale(.76 1)">7</text>
<text transform="translate(115.2 272) scale(.76 1)">14</text>
<text transform="translate(91.5 303.8) scale(.76 1)">15</text>
<text transform="translate(147.2 338) scale(.76 1)">12</text>
<text transform="translate(244.8 329.3) scale(.76 1)">13</text>
<text transform="translate(393.6 340) scale(.76 1)">17</text>
<text transform="translate(475.7 325) scale(.76 1)">18</text>
<text transform="translate(475.4 369.5) scale(.76 1)">19</text>
<text transform="translate(543.8 377) scale(.76 1)">1</text>
<text transform="translate(543.8 397) scale(.76 1)">2</text>
<text transform="translate(415.6 477.5) scale(.76 1)">20</text>
<text transform="translate(415.6 496.3) scale(.76 1)">21</text>
<text transform="translate(739.3 432.5) scale(.76 1)">5</text>
<text transform="translate(739.3 452) scale(.76 1)">6</text>
</g>
</svg>
</body>
</html>
